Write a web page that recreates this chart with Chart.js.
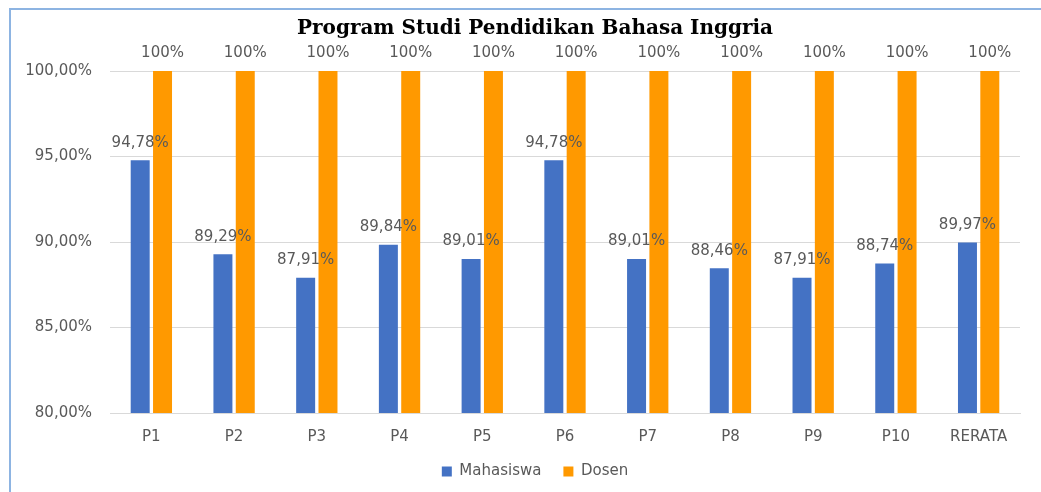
<!DOCTYPE html>
<html>
<head>
<meta charset="utf-8">
<script src="https://cdn.jsdelivr.net/npm/chart.js@4/dist/chart.umd.min.js"></script>
<style>
  html, body { margin: 0; padding: 0; background: #fff; }
  #wrap { position: relative; width: 1041px; height: 492px; }
  #frame { position: absolute; left: 9px; top: 8px; right: 0; bottom: 0;
           border-top: 2px solid #8db4e2; border-left: 2px solid #8db4e2; }
  canvas { position: absolute; left: 0; top: 0; }
</style>
</head>
<body>
<div id="wrap">
  <div id="frame"></div>
  <canvas id="chart" width="1041" height="492"></canvas>
</div>
<script>
// ── data ──
const categories = ['P1', 'P2', 'P3', 'P4', 'P5', 'P6', 'P7', 'P8', 'P9', 'P10', 'RERATA'];
const mahasiswa = [94.78, 89.29, 87.91, 89.84, 89.01, 94.78, 89.01, 88.46, 87.91, 88.74, 89.97];
const dosen = [100, 100, 100, 100, 100, 100, 100, 100, 100, 100, 100];
const yTicks = [80, 85, 90, 95, 100];

const GREY = '#595959';
const SANS = '"DejaVu Sans", Verdana, sans-serif';

// draws value labels above each bar
const barLabels = {
  id: 'barLabels',
  afterDatasetsDraw(chart) {
    const ctx = chart.ctx;
    ctx.save();
    ctx.font = '15px ' + SANS;
    ctx.fillStyle = GREY;
    ctx.textAlign = 'center';
    ctx.textBaseline = 'bottom';
    chart.data.datasets.forEach((ds, di) => {
      const meta = chart.getDatasetMeta(di);
      meta.data.forEach((bar, i) => {
        const v = ds.data[i];
        const txt = di === 0 ? v.toFixed(2).replace('.', ',') + '%' : v + '%';
        ctx.fillText(txt, bar.x, bar.y - 10);
      });
    });
    ctx.restore();
  }
};

new Chart(document.getElementById('chart'), {
  type: 'bar',
  data: {
    labels: categories,
    datasets: [
      { label: 'Mahasiswa', data: mahasiswa, backgroundColor: '#4472c4' },
      { label: 'Dosen', data: dosen, backgroundColor: '#ff9900' }
    ]
  },
  options: {
    responsive: false,
    animation: false,
    devicePixelRatio: 1,
    categoryPercentage: 0.54,
    barPercentage: 0.85,
    layout: { padding: { top: 4, right: 21, bottom: 3, left: 50 } },
    plugins: {
      title: {
        display: true,
        text: 'Program Studi Pendidikan Bahasa Inggria',
        color: '#000',
        font: { family: '"DejaVu Serif", "Liberation Serif", serif', size: 20, weight: 'bold' },
        padding: { top: 13, bottom: 30 }
      },
      legend: {
        position: 'bottom',
        labels: {
          color: GREY,
          boxWidth: 10, boxHeight: 10,
          padding: 22,
          font: { family: SANS, size: 15 }
        }
      },
      tooltip: { enabled: false }
    },
    scales: {
      x: {
        afterFit(scale) {
          // pull the legend closer to the category labels
          scale.height -= 11;
          scale._computeLabelArea = () => null;
        },
        grid: { display: false },
        border: { color: '#d9d9d9', width: 1 },
        ticks: { color: GREY, padding: 7, font: { family: SANS, size: 15 } }
      },
      y: {
        min: 80, max: 100,
        afterFit(scale) {
          scale.width = 60;
          // labels stick out left of the narrow axis box, so don't clip them
          scale._computeLabelArea = () => null;
        },
        afterBuildTicks(scale) { scale.ticks = yTicks.map(v => ({ value: v })); },
        grid: { color: '#d9d9d9', drawTicks: false },
        border: { display: false },
        ticks: {
          color: GREY, padding: 18,
          font: { family: SANS, size: 15 },
          callback: v => v.toFixed(2).replace('.', ',') + '%'
        }
      }
    }
  },
  plugins: [barLabels]
});
</script>
</body>
</html>
